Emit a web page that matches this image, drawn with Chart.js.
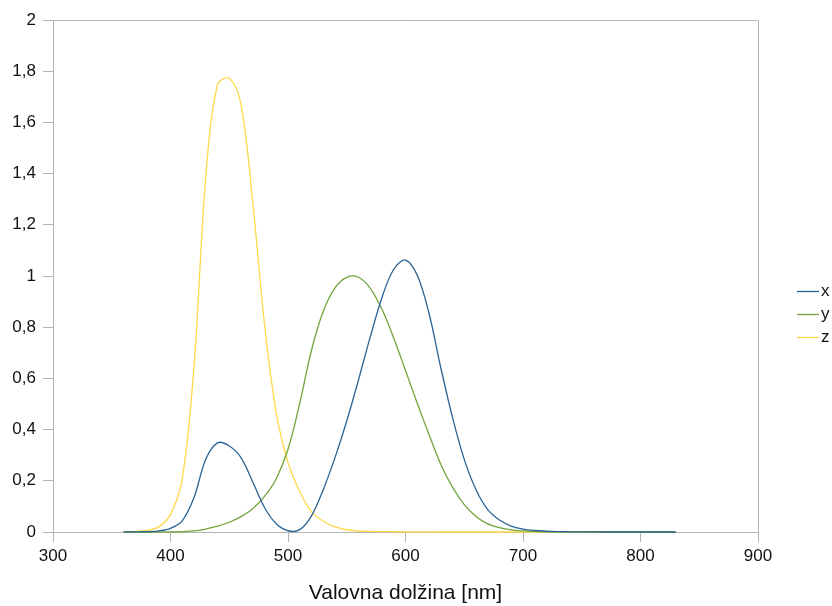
<!DOCTYPE html>
<html>
<head>
<meta charset="utf-8">
<script src="https://cdn.jsdelivr.net/npm/chart.js@4/dist/chart.umd.min.js"></script>
<style>
  html, body { margin: 0; padding: 0; background: #fff; }
  #wrap { width: 832px; height: 606px; }
</style>
</head>
<body>
<div id="wrap"><canvas id="cmf" width="832" height="606"></canvas></div>
<script>
// CIE 1931 colour matching functions, 10 nm steps
var wavelengths = [360, 370, 380, 390, 400, 410, 420, 430, 440, 450, 460, 470, 480, 490,
  500, 510, 520, 530, 540, 550, 560, 570, 580, 590, 600, 610, 620, 630, 640, 650,
  660, 670, 680, 690, 700, 710, 720, 730, 740, 750, 760, 770, 780, 790, 800, 810, 820, 830];
var xBar = [0.00013, 0.000415, 0.001368, 0.004243, 0.01431, 0.04351, 0.13438, 0.2839, 0.34828, 0.3362,
  0.2908, 0.19536, 0.09564, 0.03201, 0.0049, 0.0093, 0.06327, 0.1655, 0.2904, 0.43345,
  0.5945, 0.7621, 0.9163, 1.0263, 1.0622, 1.0026, 0.85445, 0.6424, 0.4479, 0.2835,
  0.1649, 0.0874, 0.04677, 0.0227, 0.011359, 0.00579, 0.002899, 0.00144, 0.00069, 0.000332,
  0.000166, 0.000083, 0.000042, 0.000021, 0.00001, 0.000005, 0.0000025, 0.0000013];
var yBar = [0.000004, 0.000012, 0.000039, 0.00012, 0.000396, 0.00121, 0.004, 0.0116, 0.023, 0.038,
  0.06, 0.09098, 0.13902, 0.20802, 0.323, 0.503, 0.71, 0.862, 0.954, 0.99495,
  0.995, 0.952, 0.87, 0.757, 0.631, 0.503, 0.381, 0.265, 0.175, 0.107,
  0.061, 0.032, 0.017, 0.00821, 0.004102, 0.002091, 0.001047, 0.00052, 0.000249, 0.00012,
  0.00006, 0.00003, 0.000015, 0.0000075, 0.0000037, 0.0000018, 0.0000009, 0.0000005];
var zBar = [0.000606, 0.001946, 0.00645, 0.02005, 0.06785, 0.2074, 0.6456, 1.3856, 1.74706, 1.77211,
  1.6692, 1.28764, 0.81295, 0.46518, 0.272, 0.1582, 0.07825, 0.04216, 0.0203, 0.00875,
  0.0039, 0.0021, 0.00165, 0.0011, 0.0008, 0.00034, 0.00019, 0.00005, 0.00002, 0,
  0, 0, 0, 0, 0, 0, 0, 0, 0, 0,
  0, 0, 0, 0, 0, 0, 0, 0];
var seriesNames = ['x', 'y', 'z'];
var seriesColors = ['#2a6496', '#6fa53a', '#ffd84a'];
var xTicks = [300, 400, 500, 600, 700, 800, 900];
var yTicks = [0, 0.2, 0.4, 0.6, 0.8, 1, 1.2, 1.4, 1.6, 1.8, 2];
var xTitle = 'Valovna dolžina [nm]';

var axisColor = '#b3b3b3';
var textColor = '#111';
var fontFamily = '"Liberation Sans", Arial, sans-serif';

function toPoints(vals) {
  return wavelengths.map(function (w, i) { return { x: w, y: vals[i] }; });
}

var allSeries = [xBar, yBar, zBar];
var datasets = allSeries.map(function (vals, i) {
  return {
    label: seriesNames[i],
    data: toPoints(vals),
    borderColor: seriesColors[i],
    backgroundColor: seriesColors[i],
    borderWidth: 1.3,
    pointRadius: 0,
    fill: false,
    tension: 0.35,
    clip: false
  };
});

// top + right frame lines, and a simple line legend on the right
var framePlugin = {
  id: 'frameAndLegend',
  afterDraw: function (chart) {
    var ctx = chart.ctx, a = chart.chartArea;
    ctx.save();
    ctx.strokeStyle = axisColor;
    ctx.lineWidth = 1;
    ctx.beginPath();
    ctx.moveTo(a.left, a.top + 0.5);
    ctx.lineTo(a.right + 0.5, a.top + 0.5);
    ctx.lineTo(a.right + 0.5, a.bottom);
    ctx.stroke();

    ctx.font = '17px ' + fontFamily;
    ctx.textBaseline = 'middle';
    ctx.textAlign = 'left';
    var ly = 291;
    seriesNames.forEach(function (name, i) {
      var y = ly + i * 23;
      ctx.strokeStyle = seriesColors[i];
      ctx.lineWidth = 1.3;
      ctx.beginPath();
      ctx.moveTo(797, y + 0.5);
      ctx.lineTo(819, y + 0.5);
      ctx.stroke();
      ctx.fillStyle = textColor;
      ctx.fillText(name, 821, y);
    });
    ctx.restore();
  }
};

function commaLabel(v) {
  var r = Math.round(v * 10) / 10;
  return String(r).replace('.', ',');
}

new Chart(document.getElementById('cmf'), {
  type: 'line',
  data: { datasets: datasets },
  plugins: [framePlugin],
  options: {
    responsive: false,
    animation: false,
    layout: { padding: { left: 0, right: 74, top: 20, bottom: 0 } },
    plugins: {
      legend: { display: false },
      tooltip: { enabled: false }
    },
    scales: {
      x: {
        type: 'linear',
        min: xTicks[0],
        max: xTicks[xTicks.length - 1],
        afterBuildTicks: function (scale) {
          scale.ticks = xTicks.map(function (v) { return { value: v }; });
        },
        afterFit: function (scale) { scale.height = 74; },
        grid: { drawOnChartArea: false, drawTicks: true, tickLength: 10, color: axisColor },
        border: { display: true, color: axisColor },
        ticks: { color: textColor, padding: 4, maxRotation: 0, font: { family: fontFamily, size: 17 } },
        title: {
          display: true,
          text: xTitle,
          color: textColor,
          font: { family: fontFamily, size: 21 },
          padding: { top: 4, bottom: 0 }
        }
      },
      y: {
        min: yTicks[0],
        max: yTicks[yTicks.length - 1],
        afterBuildTicks: function (scale) {
          scale.ticks = yTicks.map(function (v) { return { value: v }; });
        },
        afterFit: function (scale) { scale.width = 53; },
        grid: { drawOnChartArea: false, drawTicks: true, tickLength: 10, color: axisColor },
        border: { display: true, color: axisColor },
        ticks: {
          color: textColor,
          padding: 7,
          font: { family: fontFamily, size: 17 },
          callback: function (v) { return commaLabel(v); }
        }
      }
    }
  }
});
</script>
</body>
</html>
